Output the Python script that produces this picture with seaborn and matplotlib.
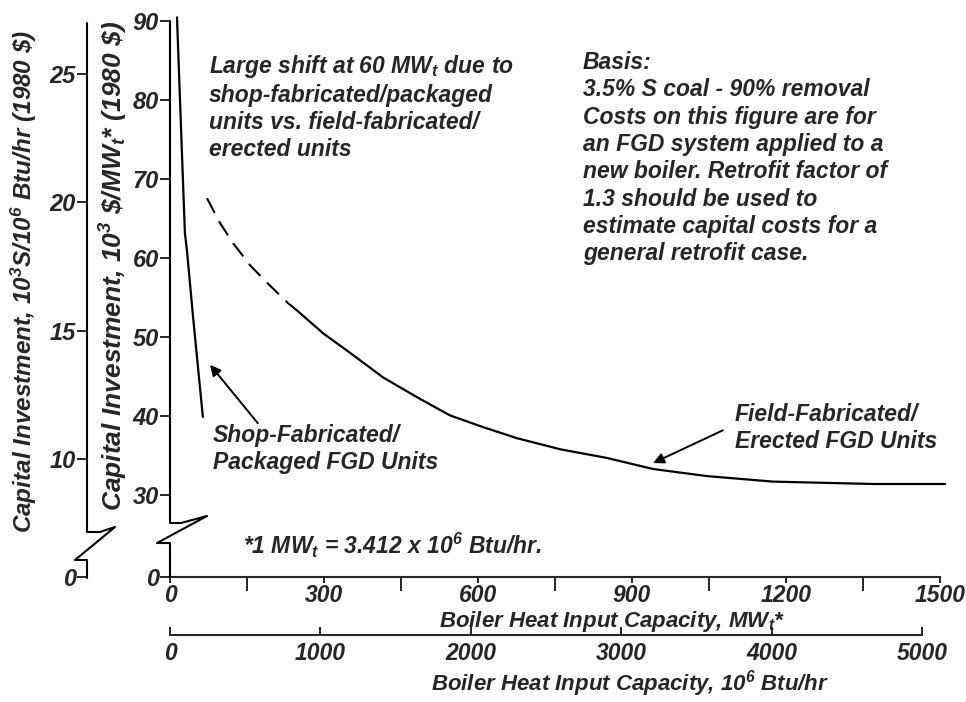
import numpy as np
import matplotlib
matplotlib.use('Agg')
import matplotlib.pyplot as plt
from matplotlib.lines import Line2D
import seaborn as sns

# Data (MWt vs 10^3 $/MWt)
shop_x = [13.6, 19.5, 29, 33, 45, 64]
shop_y = [90.5, 80.0, 63.2, 61.0, 52.5, 39.9]

field_dash_x = [72, 97, 123, 156, 189, 230, 247]
field_dash_y = [67.6, 64.5, 61.9, 59.1, 56.9, 54.3, 53.4]

field_x = [247, 298, 351, 415, 481, 545, 610, 676, 760, 851, 941, 1046, 1175, 1305, 1370, 1510]
field_y = [53.4, 50.5, 48.0, 44.9, 42.4, 40.1, 38.6, 37.2, 35.8, 34.7, 33.3, 32.4, 31.7, 31.5, 31.4, 31.4]

mw_ticks = [0, 300, 600, 900, 1200, 1500]
mw_minor = [150, 450, 750, 1050, 1350]
btu_ticks = [0, 1000, 2000, 3000, 4000, 5000]
main_yticks = [0, 30, 40, 50, 60, 70, 80, 90]
left_yticks = [0, 10, 15, 20, 25]

BTU_PER_MW = 3.412

sns.set_style('ticks')
plt.rcParams['font.family'] = ['Liberation Sans', 'DejaVu Sans']
plt.rcParams['font.style'] = 'italic'
plt.rcParams['font.weight'] = 'bold'
plt.rcParams['mathtext.fontset'] = 'custom'
plt.rcParams['mathtext.rm'] = 'Liberation Sans:bold:italic'
plt.rcParams['mathtext.it'] = 'Liberation Sans:bold:italic'
plt.rcParams['mathtext.bf'] = 'Liberation Sans:bold:italic'

W, H = 966, 702
def fx(px):
    return px / W
def fy(py):
    return 1 - py / H

fig = plt.figure(figsize=(9.66, 7.02), dpi=100)
rect = [fx(170), fy(577), (947.7 - 170) / W, (577 - 15) / H]
ax = fig.add_axes(rect)


# broken y axis: linear above 30, squeezed below
def main_fwd(v):
    v = np.asarray(v, float)
    return np.where(v >= 30, v, 30 - (30 - v) * 0.346)

def main_inv(u):
    u = np.asarray(u, float)
    return np.where(u >= 30, u, 30 - (30 - u) / 0.346)

def left_fwd(v):
    v = np.asarray(v, float)
    return np.where(v >= 8.6, v, 8.6 - (8.6 - v) * 0.371)

def left_inv(u):
    u = np.asarray(u, float)
    return np.where(u >= 8.6, u, 8.6 - (8.6 - u) / 0.371)


ax.set_yscale('function', functions=(main_fwd, main_inv))
ax.set_ylim(0, 90.8)
ax.set_xlim(0, 1515)

sns.lineplot(x=shop_x, y=shop_y, ax=ax, color='black', lw=1.6, sort=False, estimator=None)
sns.lineplot(x=field_dash_x, y=field_dash_y, ax=ax, color='black', lw=1.5, sort=False,
             estimator=None, linestyle=(0, (8, 4.5)))
sns.lineplot(x=field_x, y=field_y, ax=ax, color='black', lw=1.6, sort=False, estimator=None)

ax.set_yticks(main_yticks)
ax.set_yticklabels([str(t) for t in main_yticks])
ax.set_xticks(mw_ticks)
ax.set_xticklabels([str(t) for t in mw_ticks])
ax.set_xticks(mw_minor, minor=True)
ax.tick_params(axis='y', which='major', direction='out', length=7, width=1.4, pad=1, labelsize=17)
ax.tick_params(axis='x', which='major', direction='out', length=4, width=1.4, pad=1, labelsize=16.5)
ax.tick_params(axis='x', which='minor', direction='out', length=10, width=1.4)
ax.yaxis.set_minor_locator(matplotlib.ticker.NullLocator())
for s in ['top', 'right', 'left']:
    ax.spines[s].set_visible(False)
ax.spines['bottom'].set_linewidth(1.5)
ax.spines['bottom'].set_bounds(0, 1500)
ax.set_xlabel('')
ax.set_ylabel('')

# second x axis in 10^6 Btu/hr
sec = ax.secondary_xaxis(-(635 - 577) / 562,
                         functions=(lambda x: x * BTU_PER_MW, lambda x: x / BTU_PER_MW))
sec.set_xticks(btu_ticks)
sec.set_xticklabels([str(t) for t in btu_ticks])
sec.tick_params(direction='in', length=6, width=1.4, pad=5, labelsize=16.5)
sec.spines['bottom'].set_linewidth(1.5)
sec.spines['bottom'].set_bounds(0, 5000)

# left axis in 10^3 $ per 10^6 Btu/hr
ax2 = fig.add_axes(rect)
ax2.patch.set_visible(False)
ax2.set_yscale('function', functions=(left_fwd, left_inv))
ax2.set_ylim(0, 27.28)
ax2.set_xticks([])
ax2.set_yticks(left_yticks)
ax2.set_yticklabels([str(t) for t in left_yticks])
ax2.yaxis.set_minor_locator(matplotlib.ticker.NullLocator())
ax2.tick_params(axis='y', direction='out', length=7, width=1.4, pad=1, labelsize=17)
for s in ['top', 'right', 'bottom']:
    ax2.spines[s].set_visible(False)
ax2.spines['left'].set_position(('axes', -(170 - 87) / 777.7))
ax2.spines['left'].set_visible(False)

# hand-drawn broken spines (reference pixel coords)
main_spine = [(170, 21), (170, 523), (181, 523), (207, 516), (157, 543), (170, 543), (170, 577)]
left_spine = [(87, 23), (87, 532), (100, 532), (115, 527), (75, 560), (87, 560), (87, 578)]
for path in (main_spine, left_spine):
    xs = [fx(p[0]) for p in path]
    ys = [fy(p[1]) for p in path]
    fig.add_artist(Line2D(xs, ys, transform=fig.transFigure, color='black', lw=1.5))

# axis titles
fig.text(fx(114), fy(266), 'Capital Investment, 10$^3$ \\$/MW$_t$* (1980 \\$)',
         rotation=90, ha='center', va='center', fontsize=19)
fig.text(fx(24), fy(281), 'Capital Investment, 10$^3$S/10$^6$ Btu/hr (1980 \\$)',
         rotation=90, ha='center', va='center', fontsize=17.5)
fig.text(fx(612), fy(621), 'Boiler Heat Input Capacity, MW$_t$*', ha='center', va='center', fontsize=16)
fig.text(fx(630), fy(684), 'Boiler Heat Input Capacity, 10$^6$ Btu/hr', ha='center', va='center', fontsize=16)

# notes
fig.text(fx(209), fy(53), 'Large shift at 60 MW$_t$ due to\nshop-fabricated/packaged\n'
         'units vs. field-fabricated/\nerected units', ha='left', va='top', fontsize=16.5, linespacing=1.22)
fig.text(fx(583), fy(51), 'Basis:\n3.5% S coal - 90% removal\nCosts on this figure are for\n'
         'an FGD system applied to a\nnew boiler. Retrofit factor of\n1.3 should be used to\n'
         'estimate capital costs for a\ngeneral retrofit case.', ha='left', va='top',
         fontsize=16.5, linespacing=1.24)
fig.text(fx(213), fy(424), 'Shop-Fabricated/\nPackaged FGD Units', ha='left', va='top',
         fontsize=16.5, linespacing=1.22)
fig.text(fx(735), fy(403), 'Field-Fabricated/\nErected FGD Units', ha='left', va='top',
         fontsize=16.5, linespacing=1.22)
fig.text(fx(243), fy(554), '*1 MW$_t$ = 3.412 x 10$^6$ Btu/hr.', ha='left', va='baseline', fontsize=16.5)

arrow = dict(arrowstyle='-|>', color='black', lw=1.4, mutation_scale=16, shrinkA=0, shrinkB=0)
ax.annotate('', xy=(78, 46.5), xytext=(171, 39.1), arrowprops=arrow)
ax.annotate('', xy=(941, 34.05), xytext=(1077, 38.2), arrowprops=arrow)

fig.savefig('out.png', dpi=100)
